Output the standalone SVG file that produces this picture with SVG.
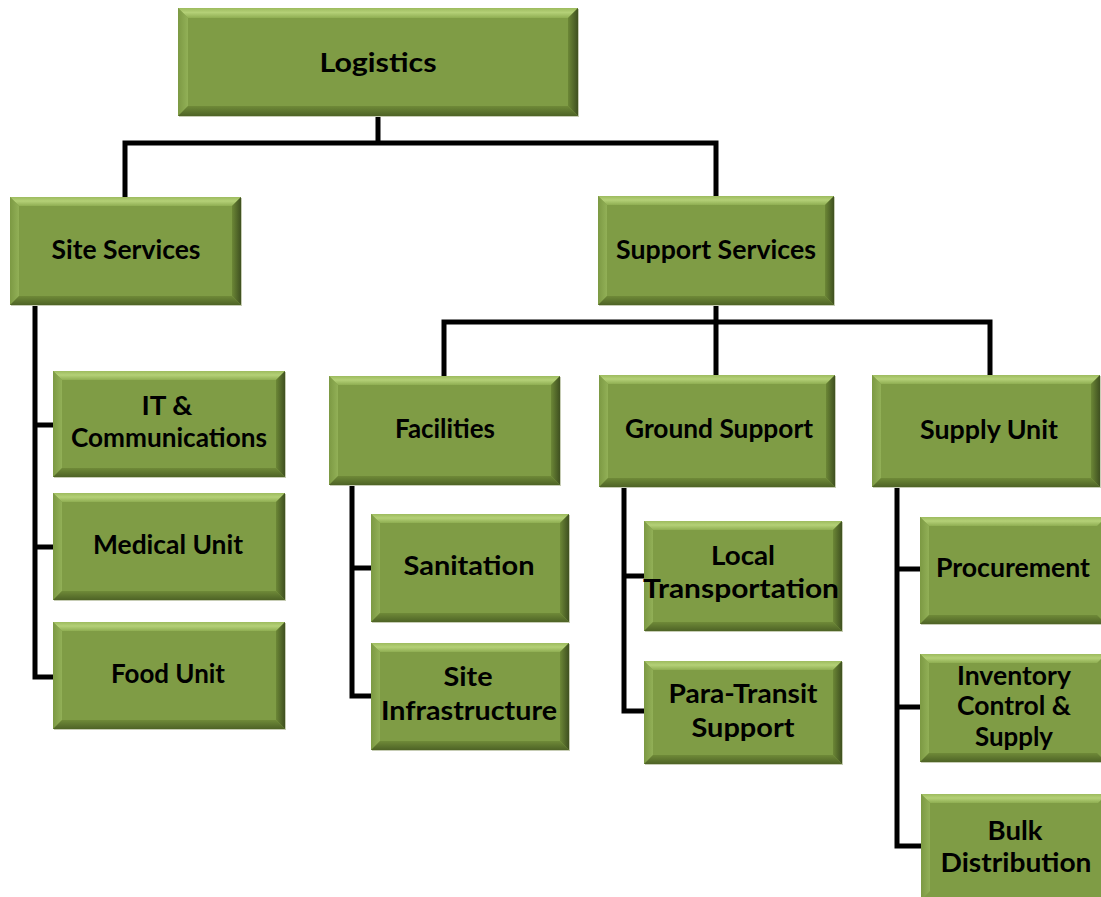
<svg xmlns="http://www.w3.org/2000/svg" width="1101" height="897" viewBox="0 0 1101 897">
<defs>
<linearGradient id="gt" x1="0" y1="0" x2="0" y2="1"><stop offset="0" stop-color="#9dbb5e"/><stop offset="0.45" stop-color="#b4d077"/><stop offset="1" stop-color="#8fae52"/></linearGradient>
<linearGradient id="gb" x1="0" y1="0" x2="0" y2="1"><stop offset="0" stop-color="#6f8a38"/><stop offset="1" stop-color="#4e6326"/></linearGradient>
<linearGradient id="gr" x1="0" y1="0" x2="1" y2="0"><stop offset="0" stop-color="#6c8736"/><stop offset="1" stop-color="#3f5020"/></linearGradient>
<linearGradient id="gl" x1="0" y1="0" x2="1" y2="0"><stop offset="0" stop-color="#7c9943"/><stop offset="1" stop-color="#92b057"/></linearGradient>
</defs>
<style>
.sh{fill:#c7cdb5}
.bx{fill:#7f9c45}
.bt{fill:url(#gt)}
.bb{fill:url(#gb)}
.br{fill:url(#gr)}
.bl{fill:url(#gl)}
text{font-family:"Lato","Open Sans","Liberation Sans",sans-serif;font-weight:bold;fill:#000;text-anchor:middle;font-size:26px}
.c{fill:none;stroke:#000;stroke-width:5;stroke-linejoin:miter}
</style>
<g id="connectors">
<path class="c" d="M378,116 V143 M125,197 V143 H716 V196"/>
<path class="c" d="M35,305 V677 H53 M35,425 H53 M35,547 H53"/>
<path class="c" d="M716,305 V375 M444,376 V322 H990 V375"/>
<path class="c" d="M352,485 V696 H371 M352,568 H371"/>
<path class="c" d="M624,487 V711 H644 M624,576 H644"/>
<path class="c" d="M897,487 V846 H921 M897,569 H920 M897,707 H920"/>
</g>
<g id="n-logistics">
<rect class="sh" x="179" y="9" width="400" height="108"/>
<rect class="bx" x="178" y="8" width="400" height="108"/>
<polygon class="bt" points="178,8 578,8 568,18 188,18"/>
<polygon class="bl" points="178,8 188,18 188,106 178,116"/>
<polygon class="br" points="578,8 578,116 568,106 568,18"/>
<polygon class="bb" points="178,116 188,106 568,106 578,116"/>
<text x="378" y="72" font-size="30" textLength="117" lengthAdjust="spacingAndGlyphs">Logistics</text>
</g>
<g id="n-site-services">
<rect class="sh" x="11" y="198" width="231" height="108"/>
<rect class="bx" x="10" y="197" width="231" height="108"/>
<polygon class="bt" points="10,197 241,197 232,206 19,206"/>
<polygon class="bl" points="10,197 19,206 19,296 10,305"/>
<polygon class="br" points="241,197 241,305 232,296 232,206"/>
<polygon class="bb" points="10,305 19,296 232,296 241,305"/>
<text x="126" y="259" textLength="149" lengthAdjust="spacingAndGlyphs">Site Services</text>
</g>
<g id="n-support-services">
<rect class="sh" x="599" y="197" width="236" height="109"/>
<rect class="bx" x="598" y="196" width="236" height="109"/>
<polygon class="bt" points="598,196 834,196 825,205 607,205"/>
<polygon class="bl" points="598,196 607,205 607,296 598,305"/>
<polygon class="br" points="834,196 834,305 825,296 825,205"/>
<polygon class="bb" points="598,305 607,296 825,296 834,305"/>
<text x="716" y="259" textLength="200" lengthAdjust="spacingAndGlyphs">Support Services</text>
</g>
<g id="n-it">
<rect class="sh" x="54" y="372" width="232" height="106"/>
<rect class="bx" x="53" y="371" width="232" height="106"/>
<polygon class="bt" points="53,371 285,371 276,380 62,380"/>
<polygon class="bl" points="53,371 62,380 62,468 53,477"/>
<polygon class="br" points="285,371 285,477 276,468 276,380"/>
<polygon class="bb" points="53,477 62,468 276,468 285,477"/>
<text x="167" y="415" textLength="51" lengthAdjust="spacingAndGlyphs">IT &amp;</text>
<text x="169" y="447" textLength="196" lengthAdjust="spacingAndGlyphs">Communications</text>
</g>
<g id="n-medical">
<rect class="sh" x="54" y="494" width="232" height="107"/>
<rect class="bx" x="53" y="493" width="232" height="107"/>
<polygon class="bt" points="53,493 285,493 276,502 62,502"/>
<polygon class="bl" points="53,493 62,502 62,591 53,600"/>
<polygon class="br" points="285,493 285,600 276,591 276,502"/>
<polygon class="bb" points="53,600 62,591 276,591 285,600"/>
<text x="168" y="554" textLength="150" lengthAdjust="spacingAndGlyphs">Medical Unit</text>
</g>
<g id="n-food">
<rect class="sh" x="54" y="623" width="232" height="107"/>
<rect class="bx" x="53" y="622" width="232" height="107"/>
<polygon class="bt" points="53,622 285,622 276,631 62,631"/>
<polygon class="bl" points="53,622 62,631 62,720 53,729"/>
<polygon class="br" points="285,622 285,729 276,720 276,631"/>
<polygon class="bb" points="53,729 62,720 276,720 285,729"/>
<text x="168" y="683" textLength="114" lengthAdjust="spacingAndGlyphs">Food Unit</text>
</g>
<g id="n-facilities">
<rect class="sh" x="330" y="377" width="231" height="109"/>
<rect class="bx" x="329" y="376" width="231" height="109"/>
<polygon class="bt" points="329,376 560,376 551,385 338,385"/>
<polygon class="bl" points="329,376 338,385 338,476 329,485"/>
<polygon class="br" points="560,376 560,485 551,476 551,385"/>
<polygon class="bb" points="329,485 338,476 551,476 560,485"/>
<text x="445" y="438" textLength="100" lengthAdjust="spacingAndGlyphs">Facilities</text>
</g>
<g id="n-ground-support">
<rect class="sh" x="600" y="376" width="236" height="112"/>
<rect class="bx" x="599" y="375" width="236" height="112"/>
<polygon class="bt" points="599,375 835,375 826,384 608,384"/>
<polygon class="bl" points="599,375 608,384 608,478 599,487"/>
<polygon class="br" points="835,375 835,487 826,478 826,384"/>
<polygon class="bb" points="599,487 608,478 826,478 835,487"/>
<text x="719" y="438" textLength="188" lengthAdjust="spacingAndGlyphs">Ground Support</text>
</g>
<g id="n-supply-unit">
<rect class="sh" x="873" y="376" width="228" height="112"/>
<rect class="bx" x="872" y="375" width="228" height="112"/>
<polygon class="bt" points="872,375 1100,375 1091,384 881,384"/>
<polygon class="bl" points="872,375 881,384 881,478 872,487"/>
<polygon class="br" points="1100,375 1100,487 1091,478 1091,384"/>
<polygon class="bb" points="872,487 881,478 1091,478 1100,487"/>
<text x="989" y="439" textLength="138" lengthAdjust="spacingAndGlyphs">Supply Unit</text>
</g>
<g id="n-sanitation">
<rect class="sh" x="372" y="515" width="198" height="108"/>
<rect class="bx" x="371" y="514" width="198" height="108"/>
<polygon class="bt" points="371,514 569,514 560,523 380,523"/>
<polygon class="bl" points="371,514 380,523 380,613 371,622"/>
<polygon class="br" points="569,514 569,622 560,613 560,523"/>
<polygon class="bb" points="371,622 380,613 560,613 569,622"/>
<text x="469" y="575" textLength="131" lengthAdjust="spacingAndGlyphs">Sanitation</text>
</g>
<g id="n-site-infrastructure">
<rect class="sh" x="372" y="644" width="198" height="107"/>
<rect class="bx" x="371" y="643" width="198" height="107"/>
<polygon class="bt" points="371,643 569,643 560,652 380,652"/>
<polygon class="bl" points="371,643 380,652 380,741 371,750"/>
<polygon class="br" points="569,643 569,750 560,741 560,652"/>
<polygon class="bb" points="371,750 380,741 560,741 569,750"/>
<text x="468" y="686" textLength="49" lengthAdjust="spacingAndGlyphs">Site</text>
<text x="469" y="720" textLength="176" lengthAdjust="spacingAndGlyphs">Infrastructure</text>
</g>
<g id="n-local-transportation">
<rect class="sh" x="645" y="522" width="198" height="110"/>
<rect class="bx" x="644" y="521" width="198" height="110"/>
<polygon class="bt" points="644,521 842,521 833,530 653,530"/>
<polygon class="bl" points="644,521 653,530 653,622 644,631"/>
<polygon class="br" points="842,521 842,631 833,622 833,530"/>
<polygon class="bb" points="644,631 653,622 833,622 842,631"/>
<text x="743" y="565" textLength="64" lengthAdjust="spacingAndGlyphs">Local</text>
<text x="741" y="598" textLength="196" lengthAdjust="spacingAndGlyphs">Transportation</text>
</g>
<g id="n-para-transit">
<rect class="sh" x="645" y="662" width="198" height="103"/>
<rect class="bx" x="644" y="661" width="198" height="103"/>
<polygon class="bt" points="644,661 842,661 833,670 653,670"/>
<polygon class="bl" points="644,661 653,670 653,755 644,764"/>
<polygon class="br" points="842,661 842,764 833,755 833,670"/>
<polygon class="bb" points="644,764 653,755 833,755 842,764"/>
<text x="743" y="703" textLength="149" lengthAdjust="spacingAndGlyphs">Para-Transit</text>
<text x="743" y="737" textLength="103" lengthAdjust="spacingAndGlyphs">Support</text>
</g>
<g id="n-procurement">
<rect class="sh" x="921" y="518" width="186" height="107"/>
<rect class="bx" x="920" y="517" width="186" height="107"/>
<polygon class="bt" points="920,517 1106,517 1097,526 929,526"/>
<polygon class="bl" points="920,517 929,526 929,615 920,624"/>
<polygon class="bb" points="920,624 929,615 1097,615 1106,624"/>
<text x="1013" y="577" textLength="154" lengthAdjust="spacingAndGlyphs">Procurement</text>
</g>
<g id="n-inventory">
<rect class="sh" x="921" y="655" width="186" height="108"/>
<rect class="bx" x="920" y="654" width="186" height="108"/>
<polygon class="bt" points="920,654 1106,654 1097,663 929,663"/>
<polygon class="bl" points="920,654 929,663 929,753 920,762"/>
<polygon class="bb" points="920,762 929,753 1097,753 1106,762"/>
<text x="1014" y="685" textLength="114" lengthAdjust="spacingAndGlyphs">Inventory</text>
<text x="1014" y="715" textLength="114" lengthAdjust="spacingAndGlyphs">Control &amp;</text>
<text x="1014" y="746" textLength="78" lengthAdjust="spacingAndGlyphs">Supply</text>
</g>
<g id="n-bulk">
<rect class="sh" x="922" y="795" width="186" height="106"/>
<rect class="bx" x="921" y="794" width="186" height="106"/>
<polygon class="bt" points="921,794 1107,794 1098,803 930,803"/>
<polygon class="bl" points="921,794 930,803 930,891 921,900"/>
<text x="1015" y="840" textLength="55" lengthAdjust="spacingAndGlyphs">Bulk</text>
<text x="1016" y="872" textLength="151" lengthAdjust="spacingAndGlyphs">Distribution</text>
</g>
</svg>
